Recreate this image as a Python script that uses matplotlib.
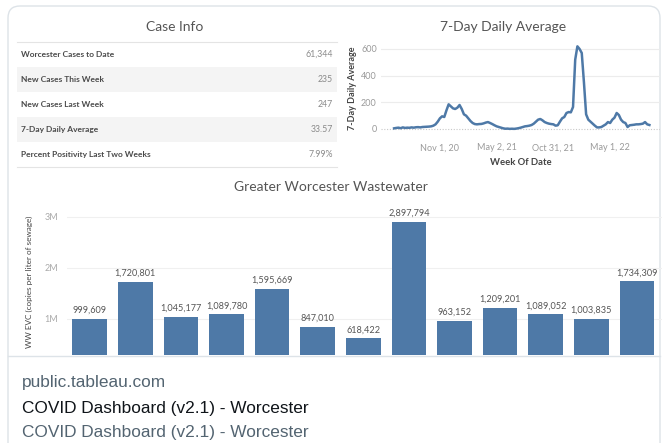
import matplotlib
matplotlib.use("Agg")
import matplotlib.pyplot as plt
from matplotlib.patches import FancyBboxPatch, Rectangle
import pandas as pd

# ---------------- data ----------------
table_labels = ["Worcester Cases to Date", "New Cases This Week", "New Cases Last Week",
                "7-Day Daily Average", "Percent Positivity Last Two Weeks"]
table_values = ["61,344", "235", "247", "33.57", "7.99%"]

week_start = "2020-06-07"
daily_avg = [5, 8, 10, 6, 12, 8, 10, 9, 12, 10, 13, 14, 12, 15, 16, 17, 18,
             20, 25, 35, 55, 80, 95,
             90, 140, 185, 170, 155, 150, 160, 180, 150, 110, 100, 80, 60, 45, 37,
             35, 37, 38, 42, 48, 52, 45, 37, 28, 20, 15, 10, 5, 2, 3, 1, 2, 1, 3,
             6, 10, 15, 20, 22, 25, 30, 40, 55, 70, 75, 65, 52, 45, 40, 37, 35, 25,
             28, 55, 80, 90, 120, 127, 125, 165, 520, 620, 600, 570, 350, 110, 70,
             55, 40, 25, 12, 12, 15, 25, 35, 52, 45, 70, 85, 120, 105, 70, 52, 45,
             15, 28, 30, 32, 35, 35, 37, 40, 52, 35, 30]
date_ticks = ["2020-11-01", "2021-05-02", "2021-10-31", "2022-05-01"]
date_tick_labels = ["Nov 1, 20", "May 2, 21", "Oct 31, 21", "May 1, 22"]

ww_samples = list(range(13))
ww_values = [999609, 1720801, 1045177, 1089780, 1595669, 847010, 618422,
             2897794, 963152, 1209201, 1089052, 1003835, 1734309]
ww_ticks = [1e6, 2e6, 3e6]
ww_tick_labels = ["1M", "2M", "3M"]

# ---------------- figure ----------------
W, H = 662, 443
fig = plt.figure(figsize=(W / 100, H / 100), dpi=100)
fig.patch.set_facecolor("white")

BLUE = "#4e79a7"
GRID = "#ececec"
TXT = "#555555"
TICK = "#9a9a9a"


def px_axes(x0, y0, x1, y1):
    return fig.add_axes([x0 / W, 1 - y1 / H, (x1 - x0) / W, (y1 - y0) / H])


bg = fig.add_axes([0, 0, 1, 1], zorder=0)
bg.set_xlim(0, W)
bg.set_ylim(H, 0)
bg.axis("off")

# card border
card = FancyBboxPatch((8, 6), 652, 520, boxstyle="round,pad=0,rounding_size=12",
                      fc="white", ec="#dde3e8", lw=1.0)
bg.add_patch(card)
bg.plot([8, 660], [356, 356], color="#dde3e8", lw=1.0)

# ---- Case Info table ----
bg.text(175, 27, "Case Info", ha="center", va="center", fontsize=10,
        color=TXT, family="Lato")
bg.plot([17, 337], [42, 42], color="#e4e4e4", lw=0.8)
bg.plot([17, 337], [167, 167], color="#e4e4e4", lw=0.8)
row_h = 25
for i, (lab, val) in enumerate(zip(table_labels, table_values)):
    yc = 54.5 + i * row_h
    if i % 2 == 1:
        bg.add_patch(Rectangle((17, yc - row_h / 2), 320, row_h, fc="#f4f4f4", ec="none"))
    bg.text(21, yc, lab, ha="left", va="center", fontsize=6.0, color="#4a4a4a",
            family="Lato", weight="bold")
    bg.text(333, yc, val, ha="right", va="center", fontsize=6.3, color="#8a8a8a",
            family="Lato")

# ---- 7-Day Daily Average line ----
bg.text(503, 27, "7-Day Daily Average", ha="center", va="center", fontsize=10,
        color=TXT, family="Lato")
ax1 = px_axes(381, 41, 660, 135)
ax1.set_facecolor("none")
dates = pd.date_range(week_start, periods=len(daily_avg), freq="7D")
ax1.plot(dates, daily_avg, color=BLUE, lw=1.8, solid_joinstyle="round")
ax1.set_xlim(pd.Timestamp("2020-04-26"), pd.Timestamp("2022-10-08"))
ax1.set_ylim(-45, 660)
ax1.set_yticks([0, 200, 400, 600])
ax1.set_yticklabels(["0", "200", "400", "600"])
ax1.set_xticks(pd.to_datetime(date_ticks))
ax1.set_xticklabels(date_tick_labels)
for s in ax1.spines.values():
    s.set_visible(False)
ax1.tick_params(length=0, labelsize=6.5, colors=TICK, pad=3)
for lab in ax1.get_xticklabels() + ax1.get_yticklabels():
    lab.set_family("Lato")
ax1.xaxis.set_tick_params(pad=6)
for yv in [200, 400, 600]:
    ax1.axhline(yv, color=GRID, lw=0.8, zorder=0)
ax1.axhline(0, color="#c8c8c8", lw=0.8, ls=(0, (1, 1.5)), zorder=0)
ax1.set_ylabel("7-Day Daily Average", fontsize=6.5, color="#444444", family="Lato",
               weight="bold", labelpad=3)
ax1.set_xlabel("Week Of Date", fontsize=6.8, color="#444444", family="Lato",
               weight="bold", labelpad=4)

# ---- Wastewater bars ----
bg.text(331, 187, "Greater Worcester Wastewater", ha="center", va="center",
        fontsize=10, color=TXT, family="Lato")
ax2 = px_axes(67, 200, 662, 355)
ax2.set_facecolor("none")
bars = ax2.bar(ww_samples, ww_values, width=0.76, color=BLUE, zorder=2)
ax2.set_xlim(-0.5, 12.55)
ax2.set_ylim(0.294e6, 3.33e6)
ax2.set_yticks(ww_ticks)
ax2.set_yticklabels(ww_tick_labels)
ax2.set_xticks([])
for s in ax2.spines.values():
    s.set_visible(False)
ax2.tick_params(length=0, labelsize=6.5, colors="#aaaaaa", pad=6.5)
for lab in ax2.get_yticklabels():
    lab.set_family("Lato")
for yv in ww_ticks:
    ax2.axhline(yv, color="#f0f0f0", lw=0.8, zorder=0)
for b, v in zip(bars, ww_values):
    ax2.annotate(f"{v:,}", (b.get_x() + b.get_width() / 2, v), xytext=(0, 3),
                 textcoords="offset points", ha="center", va="bottom",
                 fontsize=6.6, color="#555555", family="Lato")
bg.text(29, 282, "WW EVC (copies per liter of sewage)", rotation=90, ha="center",
        va="center", fontsize=5.9, color="#444444", family="Lato")

# ---- link card text ----
bg.text(22, 382, "public.tableau.com", ha="left", va="center", fontsize=12.4,
        color="#536471", family="Liberation Sans")
bg.text(22, 408, "COVID Dashboard (v2.1) - Worcester", ha="left", va="center",
        fontsize=12.4, color="#0f1419", family="Liberation Sans")
bg.text(22, 433, "COVID Dashboard (v2.1) - Worcester", ha="left", va="center",
        fontsize=12.4, color="#536471", family="Liberation Sans")

fig.savefig("out.png", dpi=100, facecolor="white")
